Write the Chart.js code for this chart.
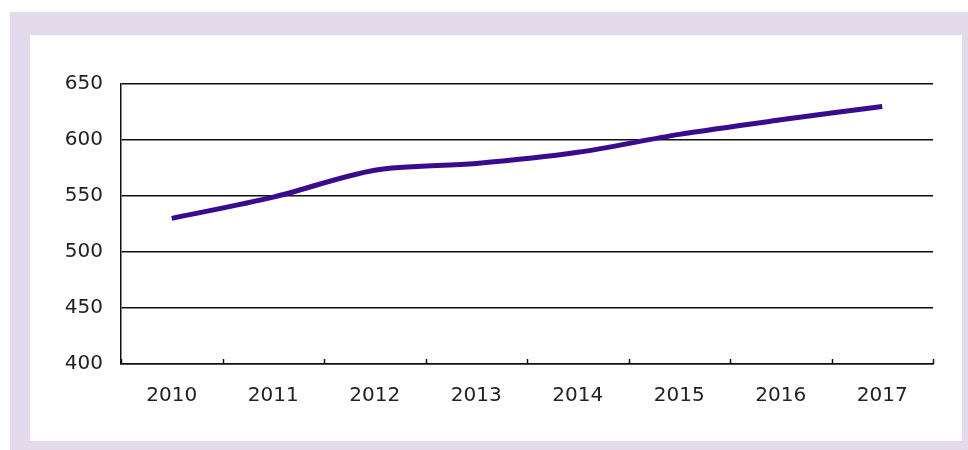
<!DOCTYPE html>
<html>
<head>
<meta charset="utf-8">
<script src="https://cdn.jsdelivr.net/npm/chart.js@4"></script>
<style>
  html, body { margin: 0; padding: 0; background: #fff; }
  body { width: 968px; height: 450px; position: relative; overflow: hidden; }
  .frame { position: absolute; left: 10px; top: 12px; width: 958px; height: 438px; background: #e3dbeb; }
  .panel { position: absolute; left: 30px; top: 35px; width: 932px; height: 406px; background: #fff; }
  #wrap { position: absolute; left: 0; top: 0; width: 968px; height: 450px; }
</style>
</head>
<body>
<div class="frame"></div>
<div class="panel"></div>
<div id="wrap"><canvas id="chart"></canvas></div>
<script>
  // years on the x axis and the yearly values
  const years = ['2010', '2011', '2012', '2013', '2014', '2015', '2016', '2017'];
  const values = [530, 549, 573, 579, 589, 605, 618, 630];
  const yTicks = [400, 450, 500, 550, 600, 650];

  const tickFont = { family: 'DejaVu Sans', size: 20 };

  // small marks between the years, pointing up into the plot
  const innerTicks = {
    id: 'innerTicks',
    afterDraw(chart) {
      const xs = chart.scales.x;
      const ctx = chart.ctx;
      ctx.save();
      ctx.strokeStyle = '#111';
      ctx.lineWidth = 1.5;
      ctx.beginPath();
      for (let i = 0; i <= years.length; i++) {
        const px = Math.round(xs.getPixelForValue(i - 0.5)) + 0.5;
        ctx.moveTo(px, xs.top);
        ctx.lineTo(px, xs.top - 5);
      }
      ctx.stroke();
      ctx.restore();
    }
  };

  new Chart(document.getElementById('chart'), {
    type: 'line',
    data: {
      labels: years,
      datasets: [{
        data: values,
        borderColor: '#3a0b8e',
        borderWidth: 5,
        pointRadius: 0,
        tension: 0.3,
        fill: false
      }]
    },
    options: {
      responsive: true,
      maintainAspectRatio: false,
      animation: false,
      layout: { padding: { left: 0, right: 35, top: 84, bottom: 0 } },
      plugins: { legend: { display: false }, tooltip: { enabled: false } },
      scales: {
        x: {
          offset: true,
          grid: { offset: true, drawOnChartArea: false, drawTicks: false },
          border: { color: '#111', width: 1.5 },
          ticks: { color: '#222', font: tickFont, padding: 20, maxRotation: 0 },
          afterFit: s => { s.height = 86; }
        },
        y: {
          min: yTicks[0],
          max: yTicks[yTicks.length - 1],
          afterBuildTicks: s => { s.ticks = yTicks.map(v => ({ value: v })); },
          grid: { color: '#111', lineWidth: 1.5, drawTicks: false },
          border: { color: '#111', width: 1.5 },
          ticks: { color: '#222', font: tickFont, padding: 18 },
          afterFit: s => { s.width = 121; }
        }
      }
    },
    plugins: [innerTicks]
  });
</script>
</body>
</html>
